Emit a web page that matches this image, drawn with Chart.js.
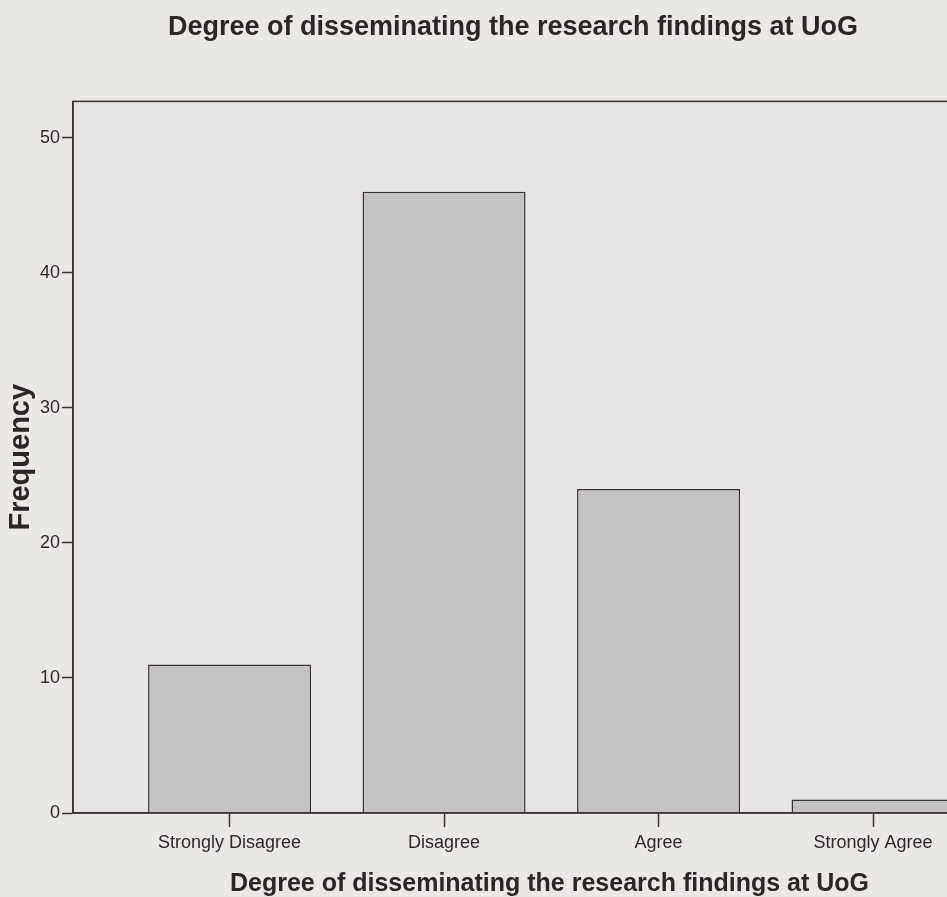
<!DOCTYPE html>
<html lang="en">
<head>
  <meta charset="UTF-8">
  <title>Degree of disseminating the research findings at UoG</title>
  <script src="https://cdn.jsdelivr.net/npm/chart.js"></script>
  <style>
    html, body {
      margin: 0;
      padding: 0;
      overflow: hidden;
      background: #eae8e5;
    }
    canvas {
      display: block;
    }
  </style>
</head>
<body>
  <canvas id="freqChart" width="1026" height="897"></canvas>

  <script>
    const categories = ["Strongly Disagree", "Disagree", "Agree", "Strongly Agree"];
    const frequencies = [11, 46, 24, 1];
    const chartTitle = "Degree of disseminating the research findings at UoG";
    const xTitle = "Degree of disseminating the research findings at UoG";
    const yTitle = "Frequency";

    const INK = '#3a3234';
    const FONT = "'Liberation Sans', Arial, sans-serif";

    // plot panel: background + frame around the chart area
    const panel = {
      id: 'panel',
      beforeDraw(chart) {
        const { ctx, chartArea: a } = chart;
        ctx.save();
        ctx.fillStyle = '#e5e4e2';
        ctx.fillRect(a.left, a.top, a.right - a.left, a.bottom - a.top);
        ctx.restore();
      },
      afterDraw(chart) {
        const { ctx, chartArea: a } = chart;
        ctx.save();
        ctx.strokeStyle = INK;
        ctx.lineWidth = 1.5;
        ctx.strokeRect(a.left, a.top, a.right - a.left, a.bottom - a.top);
        ctx.restore();
      }
    };

    const ctx = document.getElementById('freqChart').getContext('2d');

    new Chart(ctx, {
      type: 'bar',
      data: {
        datasets: [{
          label: yTitle,
          data: frequencies.map((v, i) => ({ x: i, y: v })),
          backgroundColor: '#c4c3c3',
          borderColor: INK,
          borderWidth: 1.5,
          categoryPercentage: 1,
          barPercentage: 0.76
        }]
      },
      options: {
        responsive: false,
        animation: false,
        layout: { padding: 0 },
        plugins: {
          legend: { display: false },
          tooltip: { enabled: false },
          title: {
            display: true,
            text: chartTitle,
            color: '#2b2628',
            font: { family: FONT, size: 27, weight: 'bold' },
            padding: { top: 11, bottom: 58 }
          }
        },
        scales: {
          x: {
            type: 'linear',
            offset: false,
            min: -0.73,
            max: 3.713,
            afterFit: s => { s.height = 84; },
            ticks: {
              stepSize: 1,
              includeBounds: false,
              autoSkip: false,
              maxRotation: 0,
              padding: 5,
              color: '#2e2a2c',
              font: { family: FONT, size: 18 },
              callback: v => Number.isInteger(v) ? categories[v] : ''
            },
            grid: {
              offset: false,
              drawOnChartArea: false,
              drawTicks: true,
              tickLength: 14,
              tickWidth: 1.5,
              color: INK
            },
            border: { display: true, color: INK, width: 1.5 },
            title: {
              display: true,
              text: xTitle,
              color: '#2b2628',
              font: { family: FONT, size: 25, weight: 'bold', lineHeight: 1 },
              padding: { top: 0, bottom: 0 }
            }
          },
          y: {
            min: 0,
            max: 52.7,
            afterFit: s => { s.width = 73; },
            ticks: {
              stepSize: 10,
              includeBounds: false,
              padding: 2,
              color: '#2e2a2c',
              font: { family: FONT, size: 18 }
            },
            grid: {
              drawOnChartArea: false,
              drawTicks: true,
              tickLength: 11,
              tickWidth: 1.5,
              color: INK
            },
            border: { display: true, color: INK, width: 1.5 },
            title: {
              display: true,
              text: yTitle,
              color: '#2b2628',
              font: { family: FONT, size: 29, weight: 'bold' },
              padding: { top: 4, bottom: 0 }
            }
          }
        }
      },
      plugins: [panel]
    });
  </script>
</body>
</html>
